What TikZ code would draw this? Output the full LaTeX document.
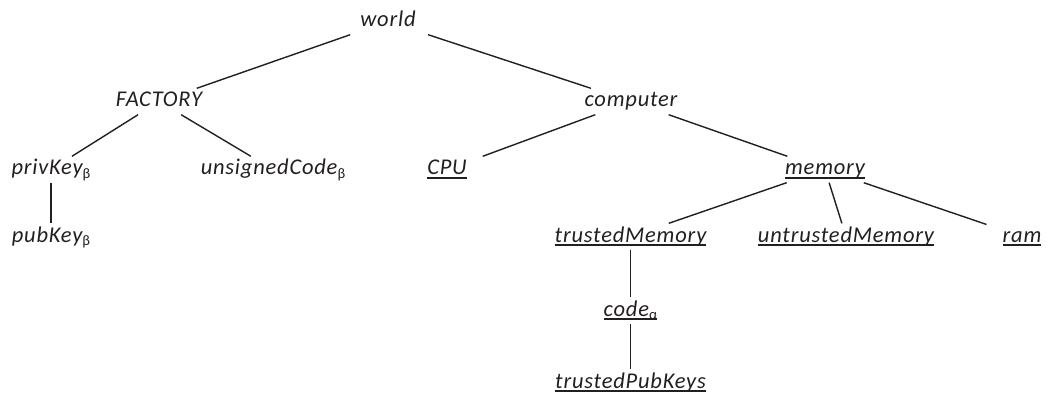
\documentclass[tikz,border=0pt]{standalone}
\usepackage{fontspec}
\setmainfont{Carlito}[LetterSpace=3.5]
\usepackage{tikz}
\definecolor{ink}{HTML}{231F20}
\newsavebox{\ulsave}
\newcommand{\ulword}[1]{\sbox{\ulsave}{#1}\rlap{\vrule height -2.2pt depth 3.6pt width \wd\ulsave}\usebox{\ulsave}}
\newcommand{\gsub}[1]{\raisebox{-3.5pt}{\fontsize{14.5}{15}\selectfont\upshape #1}}
\tikzset{
  item/.style={font=\fontsize{22.5}{27}\selectfont\itshape,text=ink,text height=16pt,text depth=5pt,inner xsep=16pt,inner ysep=2.5pt},
  link/.style={draw=ink,line width=1.4pt}
}

\begin{document}
\begin{tikzpicture}[x=1pt,y=-1pt]
  \useasboundingbox (0,0) rectangle (1047,393);
  % top levels
  \node[item] (world) at (388,21.5) {world};
  \node[item] (factory) at (159,101.5) {FACTORY};
  \node[item] (computer) at (631,101.5) {computer};
  % factory side
  \node[item] (privkey) at (51,169.5) {privKey\gsub{β}};
  \node[item] (unsigned) at (273,169.5) {unsignedCode\gsub{β}};
  \node[item] (pubkey) at (51,236.5) {pubKey\gsub{β}};
  % computer side
  \node[item] (cpu) at (447,169.5) {\ulword{CPU}};
  \node[item] (memory) at (825,169.5) {\ulword{memory}};
  \node[item] (trusted) at (630.5,236.5) {\ulword{trustedMemory}};
  \node[item] (untrusted) at (846,236.5) {\ulword{untrustedMemory}};
  \node[item] (ram) at (1022,236.5) {\ulword{ram}};
  \node[item] (code) at (630.5,310.5) {\ulword{code\gsub{α}}};
  \node[item] (pubkeys) at (630.5,382.5) {\ulword{trustedPubKeys}};
  \foreach \a/\b in {world/factory,world/computer,factory/privkey,factory/unsigned,privkey/pubkey,
    computer/cpu,computer/memory,memory/trusted,memory/untrusted,memory/ram,trusted/code,code/pubkeys}
    \draw[link] (\a) -- (\b);
\end{tikzpicture}
\end{document}
